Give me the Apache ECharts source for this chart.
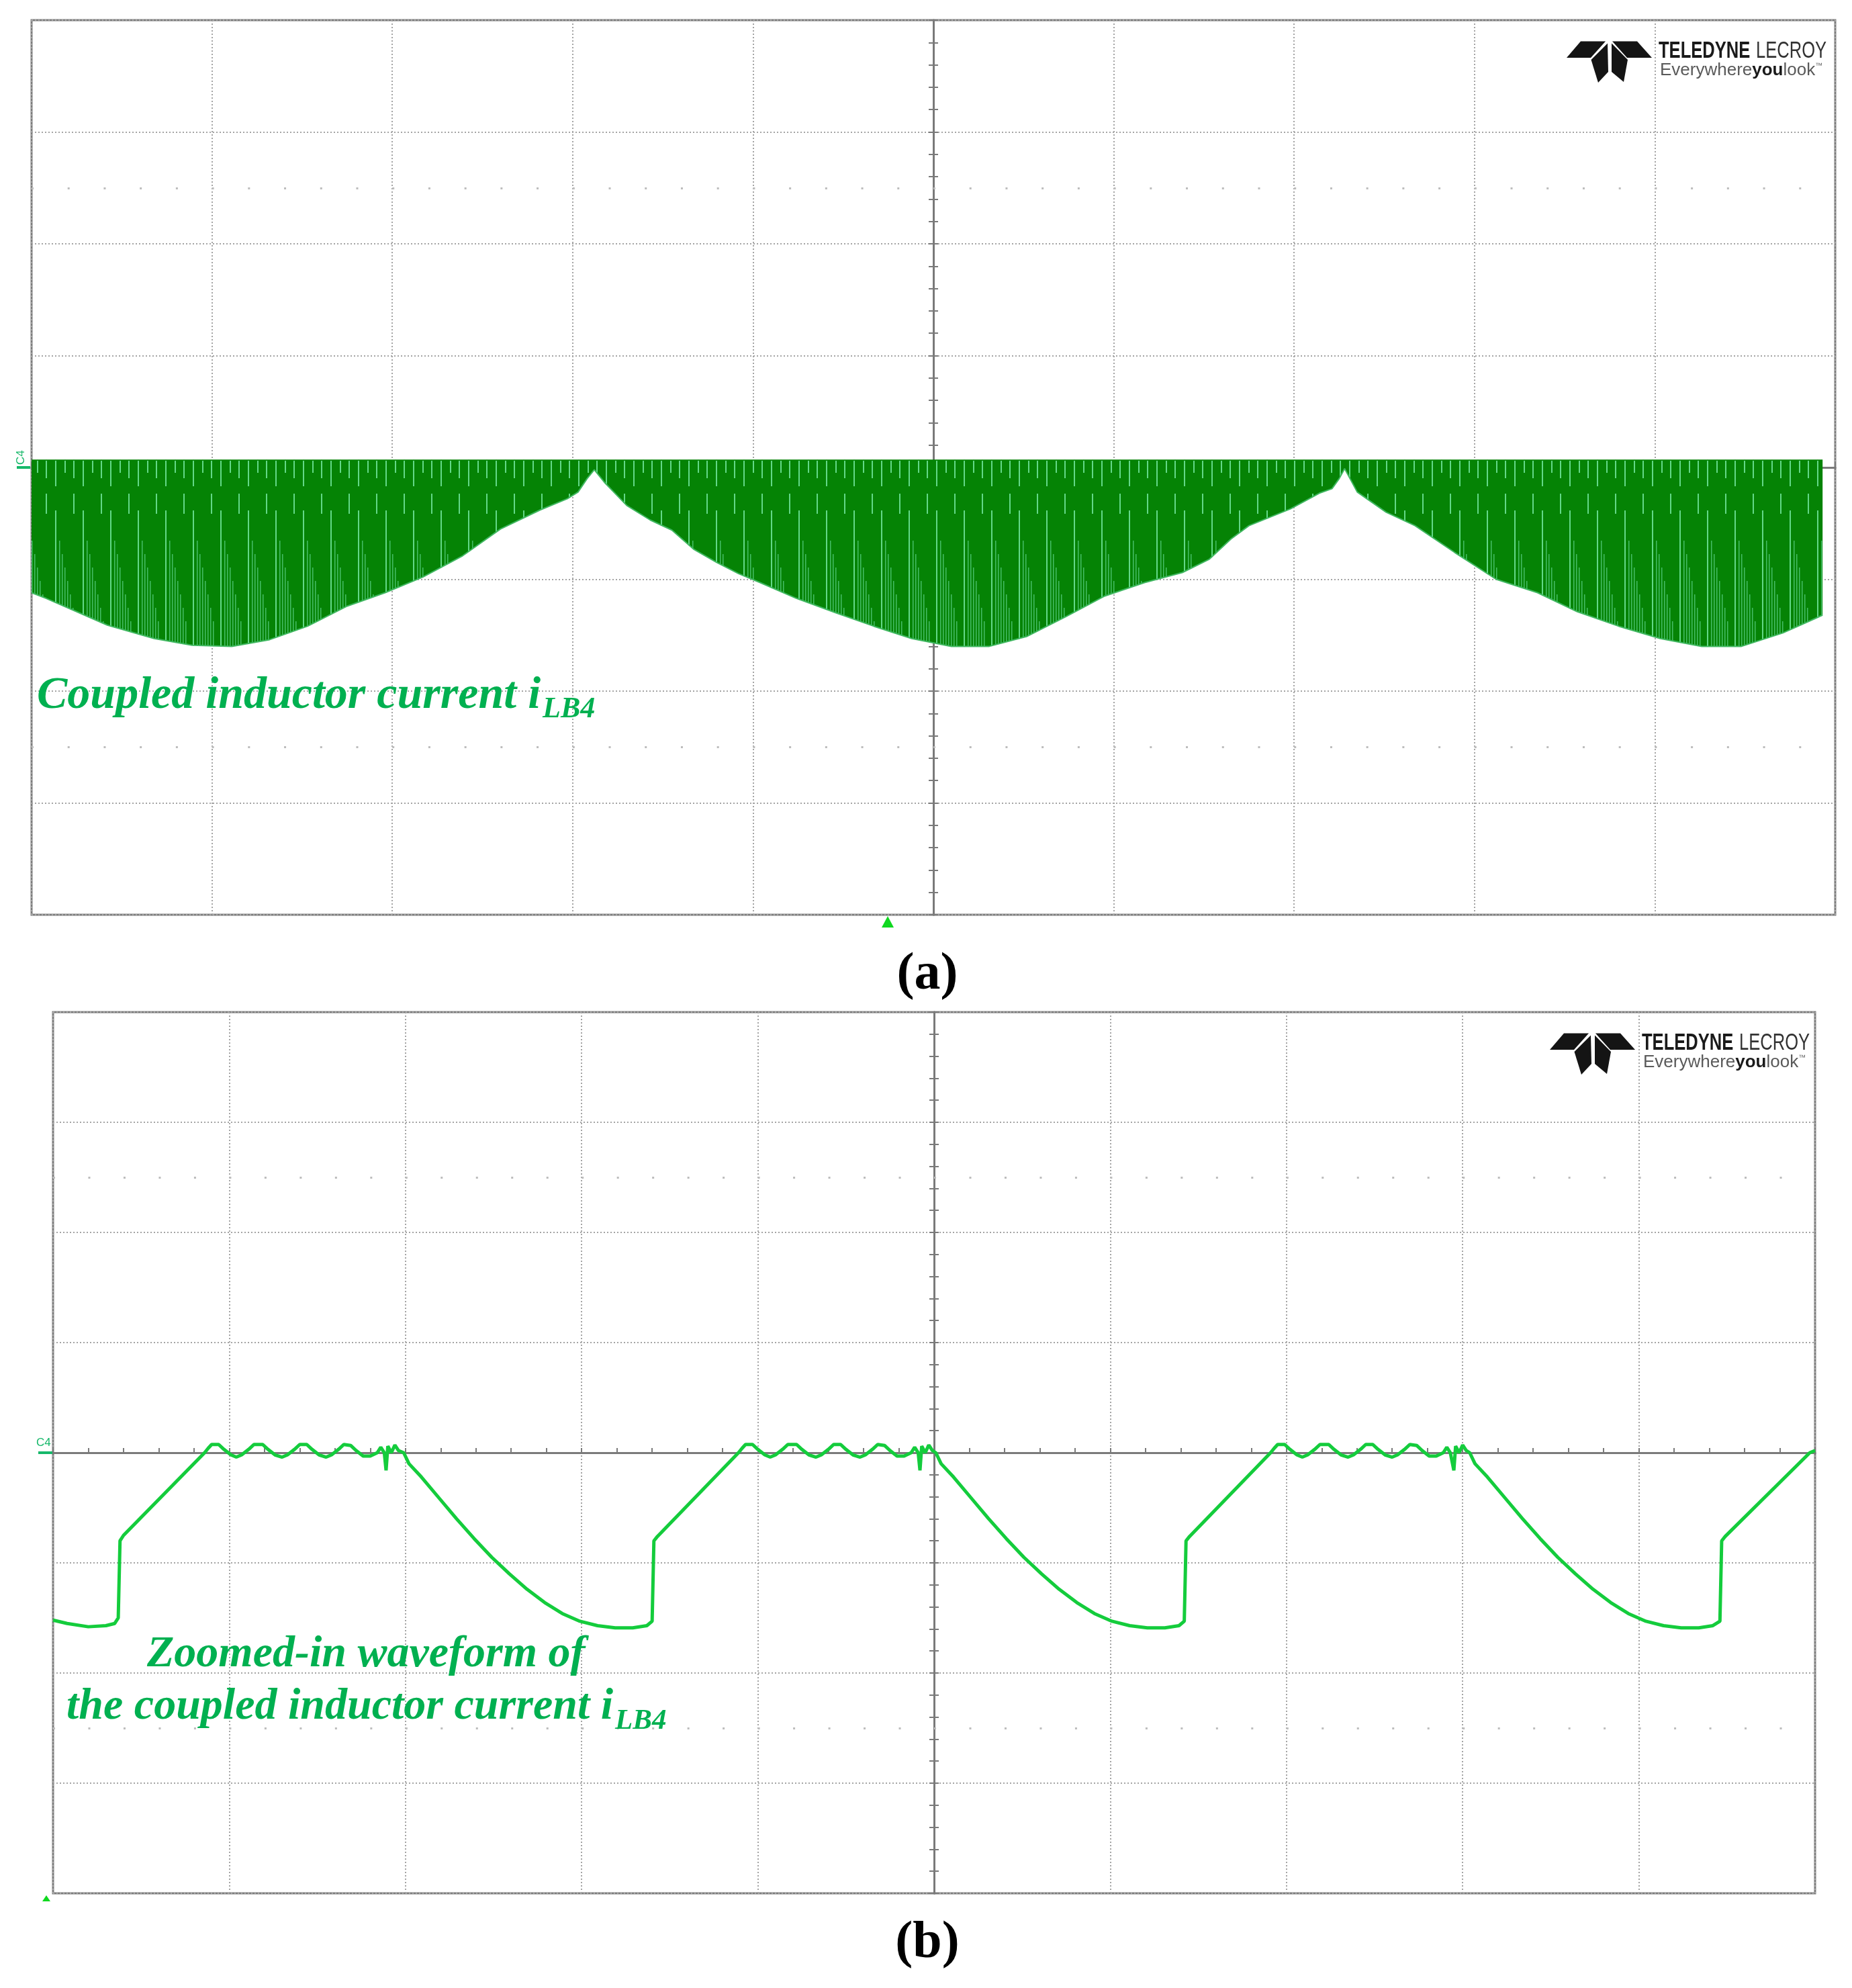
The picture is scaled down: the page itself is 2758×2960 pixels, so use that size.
<!DOCTYPE html>
<html>
<head>
<meta charset="utf-8">
<title>Coupled inductor current iLB4</title>
<script src="https://cdn.jsdelivr.net/npm/echarts@6/dist/echarts.min.js"></script>
<style>
  html, body { margin: 0; padding: 0; background: #fff; }
  #chart { width: 2758px; height: 2960px; }
</style>
</head>
<body>
<div id="chart"></div>
<script>
// scope screen: 10 x 8 divisions, centre of the screen is (0, 0)
const xRange = [-5, 5];
const yRange = [-4, 4];

// (a) switching ripple: top of the trace and its lower envelope, [x, y] in divisions
const rippleTop = 0.07;
const envelopeA = [
  [-5.00, -1.12], [-4.92, -1.17], [-4.75, -1.29], [-4.58, -1.41], [-4.32, -1.53],
  [-4.11, -1.59], [-3.89, -1.60], [-3.68, -1.54], [-3.47, -1.42], [-3.25, -1.24],
  [-3.04, -1.12], [-2.83, -0.98], [-2.61, -0.79], [-2.40, -0.55], [-2.18, -0.38],
  [-2.03, -0.28], [-1.97, -0.22], [-1.92, -0.10], [-1.88, -0.02], [-1.85, -0.08],
  [-1.82, -0.14], [-1.70, -0.34], [-1.57, -0.47], [-1.45, -0.56], [-1.33, -0.73],
  [-1.20, -0.85], [-1.08, -0.95], [-0.96, -1.03], [-0.76, -1.17], [-0.54, -1.30],
  [-0.33, -1.42], [-0.12, -1.53], [0.10, -1.60], [0.31, -1.60], [0.52, -1.51],
  [0.74, -1.33], [0.95, -1.15], [1.17, -1.03], [1.38, -0.94], [1.53, -0.82],
  [1.65, -0.64], [1.75, -0.52], [1.98, -0.37], [2.14, -0.23], [2.21, -0.19],
  [2.25, -0.10], [2.28, -0.01], [2.31, -0.10], [2.35, -0.22], [2.51, -0.40],
  [2.67, -0.52], [2.89, -0.76], [3.12, -1.00], [3.35, -1.12], [3.57, -1.29],
  [3.80, -1.42], [4.03, -1.53], [4.26, -1.60], [4.48, -1.60], [4.71, -1.48],
  [4.89, -1.35], [4.93, -1.32]
];

// (b) zoomed-in waveform, [x, y] in divisions
const traceB = [
  [-5.00, -1.52], [-4.92, -1.55], [-4.80, -1.58], [-4.70, -1.57], [-4.65, -1.55],
  [-4.63, -1.50], [-4.62, -0.80], [-4.60, -0.75], [-4.14, 0.00],
  [-4.12, 0.04], [-4.10, 0.075], [-4.06, 0.075], [-4.03, 0.03], [-3.99, -0.02],
  [-3.96, -0.04], [-3.93, -0.02], [-3.89, 0.03], [-3.86, 0.075], [-3.81, 0.075],
  [-3.78, 0.03], [-3.74, -0.02], [-3.70, -0.04], [-3.67, -0.02], [-3.63, 0.03],
  [-3.60, 0.075], [-3.56, 0.075], [-3.53, 0.03], [-3.49, -0.02], [-3.45, -0.04],
  [-3.42, -0.02], [-3.38, 0.03], [-3.35, 0.075], [-3.31, 0.065], [-3.28, 0.02],
  [-3.24, -0.03], [-3.20, -0.03], [-3.16, 0.00], [-3.14, 0.05], [-3.12, 0.00],
  [-3.11, -0.16], [-3.10, 0.06], [-3.08, 0.00], [-3.06, 0.07], [-3.04, 0.02],
  [-3.01, 0.00],
  [-2.98, -0.10], [-2.91, -0.22], [-2.81, -0.41], [-2.71, -0.60], [-2.61, -0.78],
  [-2.51, -0.95], [-2.41, -1.10], [-2.31, -1.24], [-2.21, -1.36], [-2.11, -1.46],
  [-2.01, -1.53], [-1.91, -1.57], [-1.81, -1.59], [-1.71, -1.59], [-1.63, -1.57],
  [-1.60, -1.53], [-1.59, -0.80], [-1.57, -0.76], [-1.11, 0.00],
  [-1.09, 0.04], [-1.07, 0.075], [-1.03, 0.075], [-1.00, 0.03], [-0.96, -0.02],
  [-0.93, -0.04], [-0.90, -0.02], [-0.86, 0.03], [-0.83, 0.075], [-0.78, 0.075],
  [-0.75, 0.03], [-0.71, -0.02], [-0.67, -0.04], [-0.64, -0.02], [-0.60, 0.03],
  [-0.57, 0.075], [-0.53, 0.075], [-0.50, 0.03], [-0.46, -0.02], [-0.42, -0.04],
  [-0.39, -0.02], [-0.35, 0.03], [-0.32, 0.075], [-0.28, 0.065], [-0.25, 0.02],
  [-0.21, -0.03], [-0.17, -0.03], [-0.13, 0.00], [-0.11, 0.05], [-0.09, 0.00],
  [-0.08, -0.16], [-0.07, 0.06], [-0.05, 0.00], [-0.03, 0.07], [-0.01, 0.02],
  [0.01, 0.00],
  [0.04, -0.10], [0.11, -0.22], [0.21, -0.41], [0.31, -0.60], [0.41, -0.78],
  [0.51, -0.95], [0.61, -1.10], [0.71, -1.24], [0.81, -1.36], [0.91, -1.46],
  [1.01, -1.53], [1.11, -1.57], [1.21, -1.59], [1.31, -1.59], [1.39, -1.57],
  [1.42, -1.53], [1.43, -0.80], [1.45, -0.76], [1.91, 0.00],
  [1.93, 0.04], [1.95, 0.075], [1.99, 0.075], [2.02, 0.03], [2.06, -0.02],
  [2.09, -0.04], [2.12, -0.02], [2.16, 0.03], [2.19, 0.075], [2.24, 0.075],
  [2.27, 0.03], [2.31, -0.02], [2.35, -0.04], [2.38, -0.02], [2.42, 0.03],
  [2.45, 0.075], [2.49, 0.075], [2.52, 0.03], [2.56, -0.02], [2.60, -0.04],
  [2.63, -0.02], [2.67, 0.03], [2.70, 0.075], [2.74, 0.065], [2.77, 0.02],
  [2.81, -0.03], [2.85, -0.03], [2.89, 0.00], [2.91, 0.05], [2.93, 0.00],
  [2.95, -0.16], [2.96, 0.06], [2.98, 0.00], [3.00, 0.07], [3.02, 0.02],
  [3.04, 0.00],
  [3.07, -0.10], [3.14, -0.22], [3.24, -0.41], [3.34, -0.60], [3.44, -0.78],
  [3.54, -0.95], [3.64, -1.10], [3.74, -1.24], [3.84, -1.36], [3.94, -1.46],
  [4.04, -1.53], [4.14, -1.57], [4.24, -1.59], [4.34, -1.59], [4.42, -1.57],
  [4.46, -1.53], [4.47, -0.80], [4.49, -0.76], [4.97, 0.00], [5.00, 0.02]
];

const captionA = "Coupled inductor current i";
const captionB = ["Zoomed-in waveform of", "the coupled inductor current i"];
const subscript = "LB4";

const green = "#00B050";
const gridGray = "#a4a4a4";
const axisGray = "#7a7a7a";

// texture of the dense switching trace in (a)
function ripplePattern() {
  const c = document.createElement("canvas");
  c.width = 41;
  c.height = 1400;
  const g = c.getContext("2d");
  g.fillStyle = "#058305";
  g.fillRect(0, 0, 41, 1400);
  g.fillStyle = "#63d888";
  g.fillRect(0, 686, 2, 38);
  g.fillRect(14, 686, 2, 18);
  g.fillRect(27, 686, 2, 26);
  g.fillRect(0, 760, 2, 240);
  g.fillRect(27, 735, 2, 30);
  g.fillStyle = "#45bd66";
  for (let k = 1; k <= 7; k++) g.fillRect(2 + k * 4, 785 + k * 20, 1.5, 220);
  return { image: c, repeat: "repeat" };
}

function xAxes(grid, yIdx) {
  const common = {
    gridIndex: grid, type: "value", min: xRange[0], max: xRange[1], interval: 1,
    axisLabel: { show: false },
    axisLine: { show: true, onZero: true, lineStyle: { color: axisGray, width: 3 } },
    minorTick: { show: true, splitNumber: 5, length: 7, lineStyle: { color: axisGray, width: 2 } }
  };
  return [
    Object.assign({}, common, {
      axisLine: Object.assign({}, common.axisLine, { onZeroAxisIndex: yIdx }),
      axisTick: { show: true, inside: true, length: 7, lineStyle: { color: axisGray, width: 2 } },
      splitLine: { show: true, lineStyle: { color: gridGray, width: 2, type: [2, 3] } }
    }),
    Object.assign({}, common, {
      axisLine: Object.assign({}, common.axisLine, { onZeroAxisIndex: yIdx + 1 }),
      axisTick: { show: true, inside: false, length: 7, lineStyle: { color: axisGray, width: 2 } },
      splitLine: { show: false }
    })
  ];
}

function yAxes(grid, xIdx) {
  const common = {
    gridIndex: grid, type: "value", min: yRange[0], max: yRange[1], interval: 1,
    position: "left",
    axisLabel: { show: false },
    axisLine: { show: true, onZero: true, lineStyle: { color: axisGray, width: 3 } },
    minorTick: { show: true, splitNumber: 5, length: 7, lineStyle: { color: axisGray, width: 2 } }
  };
  return [
    Object.assign({}, common, {
      axisLine: Object.assign({}, common.axisLine, { onZeroAxisIndex: xIdx }),
      axisTick: { show: true, inside: true, length: 7, lineStyle: { color: axisGray, width: 2 } },
      splitLine: { show: true, lineStyle: { color: gridGray, width: 2, type: [2, 3] } }
    }),
    Object.assign({}, common, {
      axisLine: Object.assign({}, common.axisLine, { onZeroAxisIndex: xIdx + 1 }),
      axisTick: { show: true, inside: false, length: 7, lineStyle: { color: axisGray, width: 2 } },
      splitLine: { show: false }
    })
  ];
}

// faint rows of dots 1.5 divisions in from top and bottom
function dotRows(period) {
  return {
    silent: true, symbol: ["none", "none"], label: { show: false },
    lineStyle: { color: "#bdbdbd", width: 3, type: [3, period - 3] },
    emphasis: { disabled: true },
    data: [{ yAxis: 2.5 }, { yAxis: -2.5 }]
  };
}

function caption(x, y, main, size, sub) {
  const rich = {
    m: { fontFamily: "Liberation Serif", fontStyle: "italic", fontWeight: "bold", fontSize: size, fill: green, verticalAlign: "top" },
    s: { fontFamily: "Liberation Serif", fontStyle: "italic", fontWeight: "bold", fontSize: Math.round(size * 0.65), fill: green, verticalAlign: "top", padding: [Math.round(size * 0.48), 0, 0, 3] }
  };
  return {
    type: "text", x: x, y: y, z: 50,
    style: { text: "{m|" + main + "}" + (sub ? "{s|" + sub + "}" : ""), rich: rich, verticalAlign: "top" }
  };
}

function logo(dx, dy) {
  const shapes = [
    [[2354, 61.5], [2391, 61.5], [2369, 86], [2333, 86]],
    [[2401, 61.5], [2438, 61.5], [2460, 86], [2423, 86]],
    [[2369.5, 89], [2394, 64.5], [2395, 107], [2380, 123]],
    [[2400, 64.5], [2424, 89], [2418, 122], [2400, 107]]
  ];
  const out = shapes.map(function (s) {
    return { type: "polygon", z: 50, shape: { points: s.map(function (p) { return [p[0] + dx, p[1] + dy]; }) }, style: { fill: "#141414" } };
  });
  out.push({
    type: "text", x: 2470 + dx, y: 58.5 + dy, scaleX: 0.73, z: 50,
    style: {
      text: "{b|TELEDYNE}{r|LECROY}", verticalAlign: "top",
      rich: {
        b: { fontFamily: "Liberation Sans", fontWeight: "bold", fontSize: 35, fill: "#1a1a1a", verticalAlign: "top", padding: [0, 12, 0, 0] },
        r: { fontFamily: "Liberation Sans", fontSize: 35, fill: "#333", verticalAlign: "top" }
      }
    }
  });
  out.push({
    type: "text", x: 2472 + dx, y: 92 + dy, z: 50,
    style: {
      text: "{r|Everywhere}{b|you}{r|look}{t|™}", verticalAlign: "top",
      rich: {
        r: { fontFamily: "Liberation Sans", fontSize: 26, fill: "#5a5a5a", verticalAlign: "top" },
        b: { fontFamily: "Liberation Sans", fontWeight: "bold", fontSize: 26, fill: "#1a1a1a", verticalAlign: "top" },
        t: { fontFamily: "Liberation Sans", fontSize: 11, fill: "#5a5a5a", verticalAlign: "top" }
      }
    }
  });
  return out;
}

const chart = echarts.init(document.getElementById("chart"), null, { renderer: "canvas" });

chart.setOption({
  animation: false,
  backgroundColor: "#ffffff",
  grid: [
    { left: 47, top: 30, width: 2686, height: 1332, show: true, borderColor: "#7c7c7c", borderWidth: 3, backgroundColor: "transparent" },
    { left: 79, top: 1507, width: 2624, height: 1312, show: true, borderColor: "#7c7c7c", borderWidth: 3, backgroundColor: "transparent" }
  ],
  xAxis: xAxes(0, 0).concat(xAxes(1, 2)),
  yAxis: yAxes(0, 0).concat(yAxes(1, 2)),
  series: [
    {
      // (a) band between the top of the ripple and its envelope
      type: "custom",
      xAxisIndex: 0, yAxisIndex: 0,
      data: [[0, 0]],
      z: 3,
      renderItem: function (params, api) {
        const first = envelopeA[0][0];
        const last = envelopeA[envelopeA.length - 1][0];
        const pts = [api.coord([first, rippleTop]), api.coord([last, rippleTop])];
        for (let i = envelopeA.length - 1; i >= 0; i--) pts.push(api.coord(envelopeA[i]));
        return { type: "polygon", shape: { points: pts }, style: { fill: ripplePattern() } };
      }
    },
    {
      type: "line",
      xAxisIndex: 0, yAxisIndex: 0,
      data: envelopeA,
      showSymbol: false,
      z: 4,
      lineStyle: { color: "#3fb760", width: 2 },
      markLine: dotRows(2686 / 50)
    },
    {
      type: "line",
      xAxisIndex: 2, yAxisIndex: 2,
      data: traceB,
      showSymbol: false,
      z: 4,
      lineStyle: { color: "#14cc3c", width: 5 },
      markLine: dotRows(2624 / 50)
    }
  ],
  graphic: [
    caption(55, 1002, captionA, 68, subscript),
    caption(219, 2431, captionB[0], 66, null),
    caption(99, 2509, captionB[1], 66, subscript),
    { type: "text", x: 1381, y: 1452, z: 50, style: { text: "(a)", fontFamily: "Liberation Serif", fontWeight: "bold", fontSize: 78, fill: "#000", align: "center", verticalAlign: "middle" } },
    { type: "text", x: 1381, y: 2894, z: 50, style: { text: "(b)", fontFamily: "Liberation Serif", fontWeight: "bold", fontSize: 78, fill: "#000", align: "center", verticalAlign: "middle" } },
    // channel markers and trigger markers
    { type: "text", x: 40, y: 692, rotation: Math.PI / 2, z: 50, style: { text: "C4", fontFamily: "Liberation Sans", fontSize: 17, fill: "#16b86a", align: "left", verticalAlign: "bottom" } },
    { type: "rect", z: 50, shape: { x: 25, y: 694, width: 20, height: 4 }, style: { fill: "#16b86a" } },
    { type: "text", x: 54, y: 2157, z: 50, style: { text: "C4", fontFamily: "Liberation Sans", fontSize: 17, fill: "#16b86a", align: "left", verticalAlign: "bottom" } },
    { type: "rect", z: 50, shape: { x: 57, y: 2161, width: 21, height: 4 }, style: { fill: "#16b86a" } },
    { type: "polygon", z: 50, shape: { points: [[1313, 1381], [1331, 1381], [1322, 1364]] }, style: { fill: "#10d820" } },
    { type: "polygon", z: 50, shape: { points: [[63, 2831], [75, 2831], [69, 2822]] }, style: { fill: "#10d820" } }
  ].concat(logo(0, 0), logo(-25, 1477))
});
</script>
</body>
</html>
